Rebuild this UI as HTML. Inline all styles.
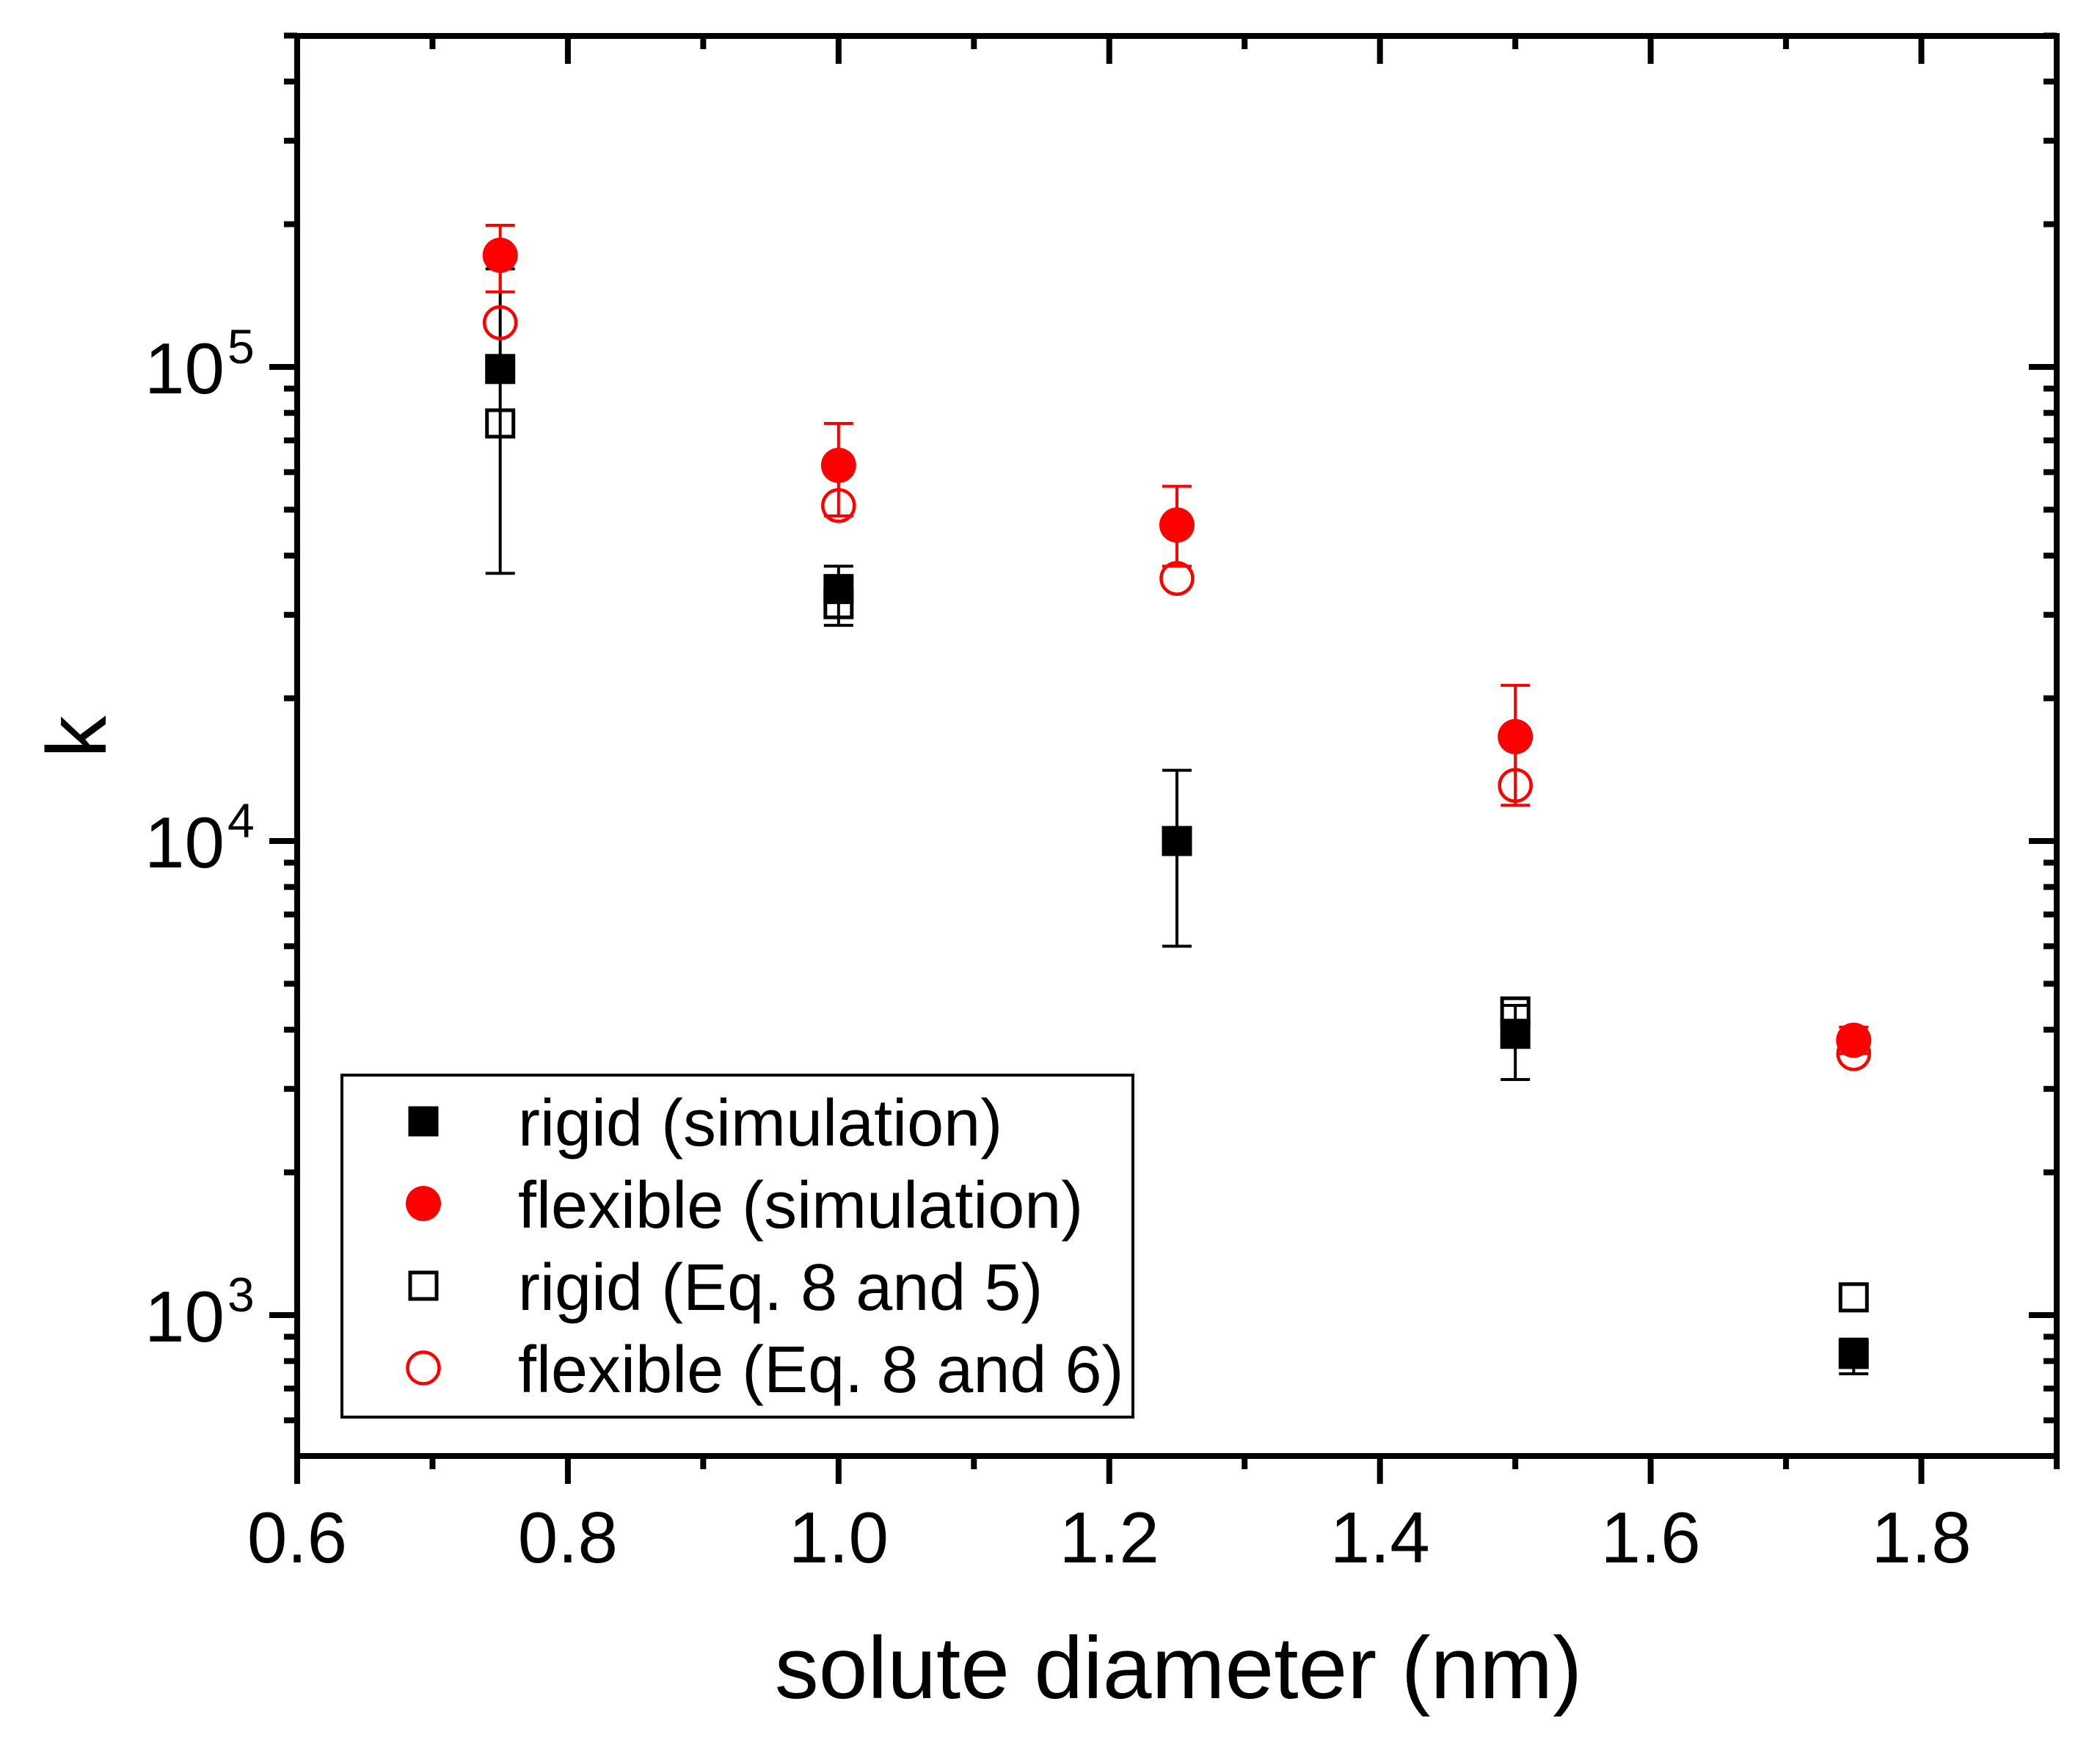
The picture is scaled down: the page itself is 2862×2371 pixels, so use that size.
<!DOCTYPE html>
<html><head><meta charset="utf-8"><style>
html,body{margin:0;padding:0;background:#fff;}
svg{display:block;font-family:"Liberation Sans",Arial,sans-serif;}
</style></head><body>
<svg id="chart" width="2862" height="2371" viewBox="0 0 2862 2371" xmlns="http://www.w3.org/2000/svg">
<rect width="2862" height="2371" fill="#fff"/>
<g id="marks"></g>
<g id="axes"></g>
<g id="legend"></g>
<text x="1606" y="2314" font-size="120" text-anchor="middle">solute diameter (nm)</text>
<text transform="translate(144,1004) rotate(-90)" font-size="115" text-anchor="middle">k</text>
</svg>
<script>
const xValues = [0.75, 1.0, 1.25, 1.5, 1.75];
const rigidSim = [99000, 34000, 10000, 3920, 828];
const rigidSimErrHi = [161000, 38000, 14100, 4500, 890];
const rigidSimErrLo = [36700, 28500, 6000, 3140, 752];
const flexSim = [172000, 62000, 46400, 16600, 3800];
const flexSimErrHi = [199000, 76000, 56000, 21300, 4050];
const flexSimErrLo = [144000, 48500, 38000, 11900, 3560];
const rigidEq = [76000, 31600, 10000, 4370, 1090];
const flexEq = [124000, 51000, 35800, 13100, 3560];
const xTicks = [0.6, 0.8, 1.0, 1.2, 1.4, 1.6, 1.8];
const xTickLabels = ["0.6", "0.8", "1.0", "1.2", "1.4", "1.6", "1.8"];
const yTicks = [1000, 10000, 100000];
const yTickExps = ["3", "4", "5"];
const legendLabels = ["rigid (simulation)", "flexible (simulation)", "rigid (Eq. 8 and 5)", "flexible (Eq. 8 and 6)"];

const NS = "http://www.w3.org/2000/svg";
const L = 405, R = 2803, T = 49, B = 1984;
const X = v => L + (v - 0.6) / 1.3 * (R - L);
const Y = v => 500 - (Math.log10(v) - 5) * 646;
function mk(tag, attrs, parent) {
  const e = document.createElementNS(NS, tag);
  for (const k in attrs) e.setAttribute(k, attrs[k]);
  parent.appendChild(e);
  return e;
}
const marks = document.getElementById('marks');
const axes = document.getElementById('axes');
const legend = document.getElementById('legend');

function errBar(x, lo, hi, color, name) {
  const g = mk('g', {stroke: color, 'stroke-width': 4}, marks);
  
  
  const cx = X(x);
  mk('line', {x1: cx, x2: cx, y1: Y(lo), y2: Y(hi)}, g);
  mk('line', {x1: cx - 20, x2: cx + 20, y1: Y(lo), y2: Y(lo)}, g);
  mk('line', {x1: cx - 20, x2: cx + 20, y1: Y(hi), y2: Y(hi)}, g);
}
function square(cx, cy, filled, parent, name) {
  const e = filled ? mk('rect', {x: cx - 20.5, y: cy - 20.5, width: 41, height: 41, fill: '#000'}, parent)
                   : mk('rect', {x: cx - 18, y: cy - 18, width: 36, height: 36, fill: 'none', stroke: '#000', 'stroke-width': 5}, parent);
  
  
}
function circle(cx, cy, filled, parent, name) {
  const e = filled ? mk('circle', {cx: cx, cy: cy, r: 24, fill: '#f00'}, parent)
                   : mk('circle', {cx: cx, cy: cy, r: 21.5, fill: 'none', stroke: '#f00', 'stroke-width': 4.5}, parent);
  
  
}
xValues.forEach((x, i) => {
  errBar(x, rigidSimErrLo[i], rigidSimErrHi[i], '#000', 'rigid-sim-errorbar');
  square(X(x), Y(rigidEq[i]), false, marks, 'rigid-eq-point');
  circle(X(x), Y(flexEq[i]), false, marks, 'flexible-eq-point');
  square(X(x), Y(rigidSim[i]), true, marks, 'rigid-sim-point');
  errBar(x, flexSimErrLo[i], flexSimErrHi[i], '#f00', 'flexible-sim-errorbar');
  circle(X(x), Y(flexSim[i]), true, marks, 'flexible-sim-point');
});

const frame = mk('rect', {x: L, y: T, width: R - L, height: B - T, fill: 'none', stroke: '#000', 'stroke-width': 8}, axes);


for (let v = 0.6; v <= 1.9001; v += 0.1) {
  const major = Math.abs(Math.round(v * 10) % 2) === 0;
  const x = X(v);
  const len = major ? 38 : 18;
  const t1 = mk('line', {x1: x, x2: x, y1: B, y2: B + len, stroke: '#000', 'stroke-width': 8}, axes);
  
  
  const t2 = mk('line', {x1: x, x2: x, y1: T, y2: T + len, stroke: '#000', 'stroke-width': 8}, axes);
  
  
}
xTicks.forEach((v, i) => {
  const t = mk('text', {x: X(v), y: B + 145, 'font-size': 98, 'text-anchor': 'middle'}, axes);
  t.textContent = xTickLabels[i];
  
  
});
for (let d = 2; d <= 5; d++) {
  for (let m = 1; m <= 9; m++) {
    const v = m * Math.pow(10, d);
    const y = Y(v);
    if (y < T - 1 || y > B + 1) continue;
    const len = m === 1 ? 38 : 18;
    const t1 = mk('line', {x1: L, x2: L - len, y1: y, y2: y, stroke: '#000', 'stroke-width': 8}, axes);
    
    
    const t2 = mk('line', {x1: R, x2: R - len, y1: y, y2: y, stroke: '#000', 'stroke-width': 8}, axes);
    
    
  }
}
yTicks.forEach((v, i) => {
  const y = Y(v);
  const t = mk('text', {x: 306, y: y + 36, 'font-size': 98, 'text-anchor': 'end'}, axes);
  t.textContent = '10';
  
  
  const s = mk('text', {x: 310, y: y - 5, 'font-size': 66}, axes);
  s.textContent = yTickExps[i];
  
  
});

const lb = mk('rect', {x: 466, y: 1465, width: 1078, height: 466, fill: '#fff', stroke: '#000', 'stroke-width': 4}, legend);


legendLabels.forEach((lab, i) => {
  const cy = 1528 + 112 * i;
  if (i === 0) square(577, cy, true, legend, 'legend-symbol');
  if (i === 1) circle(577, cy, true, legend, 'legend-symbol');
  if (i === 2) square(577, cy, false, legend, 'legend-symbol');
  if (i === 3) circle(577, cy, false, legend, 'legend-symbol');
  const t = mk('text', {x: 706, y: cy + 33, 'font-size': 90}, legend);
  t.textContent = lab;
  
  
});
</script>
</body></html>
